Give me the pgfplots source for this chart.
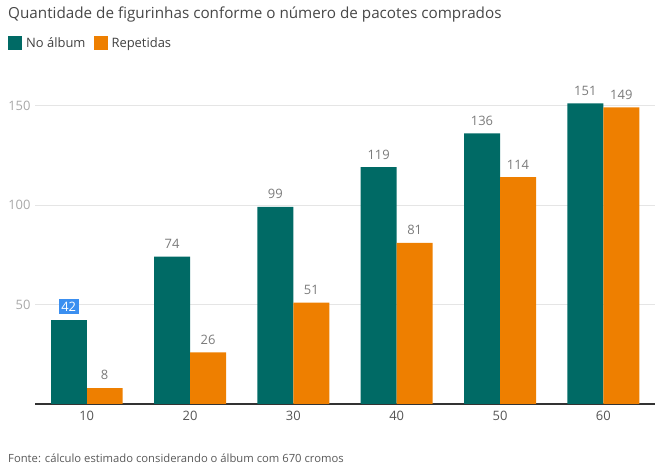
\documentclass[border=0pt]{standalone}
\usepackage{fontspec}
\setmainfont{Open Sans}
\usepackage{pgfplots}
\pgfplotsset{compat=1.18}
\definecolor{tealc}{HTML}{006A65}
\definecolor{orangec}{HTML}{EE7F00}
\definecolor{lblc}{HTML}{7A7A7A}
\definecolor{ytc}{HTML}{A8A8A8}
\definecolor{xtc}{HTML}{555555}
\definecolor{selblue}{HTML}{3B8FF0}
\begin{document}
\begin{tikzpicture}[x=1bp,y=1bp]
\useasboundingbox (0,0) rectangle (665,469);
\node[anchor=west, inner sep=0, font=\fontsize{15.3}{18}\selectfont, text=black!72] at (8,454) {Quantidade de figurinhas conforme o número de pacotes comprados};
\node[anchor=west, inner sep=0, font=\fontsize{11.3}{13}\selectfont, text=black!65] at (8,11) {Fonte: cálculo estimado considerando o álbum com 670 cromos};
\begin{axis}[
  at={(35bp,65bp)}, anchor=south west,
  scale only axis, width=620bp, height=318.4bp,
  xmin=-0.5, xmax=5.5, ymin=0, ymax=160,
  axis lines=left, axis line style={-},
  y axis line style={draw=none},
  x axis line style={draw=black!80, line width=1.4bp},
  major tick length=0pt,
  xtick={0,1,2,3,4,5}, xticklabels={10,20,30,40,50,60},
  ytick={50,100,150},
  ymajorgrids, grid style={draw=black!10, line width=0.8bp},
  /pgf/number format/assume math mode=true,
  xticklabel style={font=\fontsize{13}{15}\selectfont, text=xtc, yshift=-4bp},
  yticklabel style={font=\fontsize{13}{15}\selectfont, text=ytc, xshift=-1bp},
  ybar, bar width=36bp,
  clip=false,
  nodes near coords,
  nodes near coords style={font=\fontsize{13}{15}\selectfont, text=lblc, yshift=4.5bp},
  legend columns=2,
  legend style={at={(-0.0484,1.165)}, anchor=north west, draw=none, fill=none,
    font=\fontsize{13}{15}\selectfont, text=black!75,
    /tikz/every odd column/.append style={column sep=2bp},
    /tikz/every even column/.append style={column sep=6bp}},
  legend image code/.code={\fill[#1] (0bp,-7bp) rectangle (14bp,7bp);},
]
\addplot[fill=tealc, draw=none, bar shift=-18bp] coordinates {(1,74) (2,99) (3,119) (4,136) (5,151)};
\addlegendentry{No álbum}
\addplot[fill=orangec, draw=none, bar shift=18bp] coordinates {(0,8) (1,26) (2,51) (3,81) (4,114) (5,149)};
\addlegendentry{Repetidas}
\addplot[fill=tealc, draw=none, bar shift=-18bp, forget plot,
  nodes near coords style={fill=selblue, text=white, inner sep=2.5bp, yshift=2bp}] coordinates {(0,42)};
\end{axis}
\end{tikzpicture}
\end{document}
